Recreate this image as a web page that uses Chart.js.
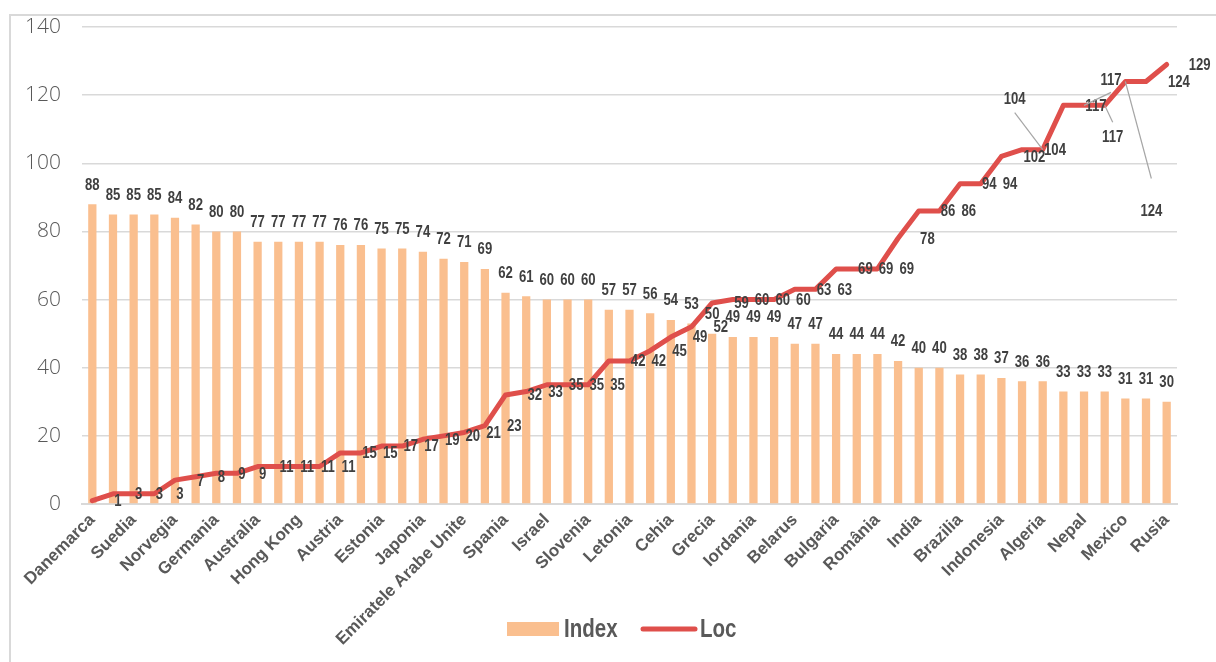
<!DOCTYPE html>
<html>
<head>
<meta charset="utf-8">
<script src="https://cdn.jsdelivr.net/npm/chart.js@4/dist/chart.umd.min.js"></script>
<style>
  html, body { margin: 0; padding: 0; background: #fff; overflow: hidden; }
  #wrap { position: relative; width: 1216px; height: 662px; }
  #frame { position: absolute; left: 9px; top: 14px; width: 1300px; height: 700px; border: 2px solid #d9d9d9; }
  #myChart { position: absolute; left: 0; top: 0; }
</style>
</head>
<body>
<div id="wrap">
  <div id="frame"></div>
  <canvas id="myChart" width="1216" height="662"></canvas>
</div>
<script>
// only every second country gets a tick label
const countries = [
  'Danemarca', '', 'Suedia', '', 'Norvegia', '', 'Germania', '', 'Australia', '',
  'Hong Kong', '', 'Austria', '', 'Estonia', '', 'Japonia', '', 'Emiratele Arabe Unite', '',
  'Spania', '', 'Israel', '', 'Slovenia', '', 'Letonia', '', 'Cehia', '',
  'Grecia', '', 'Iordania', '', 'Belarus', '', 'Bulgaria', '', 'România', '',
  'India', '', 'Brazilia', '', 'Indonesia', '', 'Algeria', '', 'Nepal', '',
  'Mexico', '', 'Rusia'
];

const indexValues = [
  88, 85, 85, 85, 84, 82, 80, 80, 77, 77,
  77, 77, 76, 76, 75, 75, 74, 72, 71, 69,
  62, 61, 60, 60, 60, 57, 57, 56, 54, 53,
  50, 49, 49, 49, 47, 47, 44, 44, 44, 42,
  40, 40, 38, 38, 37, 36, 36, 33, 33, 33,
  31, 31, 30
];

const locValues = [
  1, 3, 3, 3, 7, 8, 9, 9, 11, 11,
  11, 11, 15, 15, 17, 17, 19, 20, 21, 23,
  32, 33, 35, 35, 35, 42, 42, 45, 49, 52,
  59, 60, 60, 60, 63, 63, 69, 69, 69, 78,
  86, 86, 94, 94, 102, 104, 104, 117, 117, 117,
  124, 124, 129
];

const yTicks = [0, 20, 40, 60, 80, 100, 120, 140];

const barColor = '#FABF8F';
const lineColor = '#DF4F4B';
const labelFont = '"Liberation Sans", Arial, sans-serif';

// Loc labels that sit away from their point, joined by a leader line
const movedLabels = {
  46: {dx: -28, dy: -50, lead: 13},
  48: {dx: 27, dy: -25, lead: 12},
  49: {dx: 8, dy: 32, lead: -15},
  50: {dx: 26, dy: 130, lead: -33}
};

// condensed bold text, like the narrow font of the value labels
function narrowText(ctx, text, x, y, align) {
  ctx.save();
  ctx.translate(x, y);
  ctx.scale(0.82, 1);
  ctx.textAlign = align;
  ctx.fillText(text, 0, 0);
  ctx.restore();
}

const valueLabels = {
  id: 'valueLabels',
  afterDatasetsDraw(chart) {
    const ctx = chart.ctx;
    ctx.save();
    ctx.font = 'bold 16px ' + labelFont;
    ctx.fillStyle = '#404040';
    ctx.textBaseline = 'middle';

    chart.getDatasetMeta(0).data.forEach((bar, i) => {
      narrowText(ctx, String(indexValues[i]), bar.x, bar.y - 19, 'center');
    });

    chart.getDatasetMeta(1).data.forEach((pt, i) => {
      const m = movedLabels[i];
      if (m) {
        const lx = pt.x + m.dx, ly = pt.y + m.dy;
        ctx.strokeStyle = '#a6a6a6';
        ctx.lineWidth = 1.2;
        ctx.beginPath();
        ctx.moveTo(pt.x, pt.y);
        ctx.lineTo(lx, ly + m.lead);
        ctx.stroke();
        narrowText(ctx, String(locValues[i]), lx, ly, 'center');
      } else {
        narrowText(ctx, String(locValues[i]), pt.x + 22, pt.y + 1, 'left');
      }
    });
    ctx.restore();
  }
};

// legend under the axis labels: orange box for Index, red stroke for Loc
const bottomLegend = {
  id: 'bottomLegend',
  afterDraw(chart) {
    const ctx = chart.ctx;
    const y = 629;
    ctx.save();
    ctx.font = 'bold 25px ' + labelFont;
    ctx.fillStyle = barColor;
    ctx.fillRect(507, y - 7, 52, 14);
    ctx.fillStyle = '#595959';
    ctx.textBaseline = 'middle';
    narrowText(ctx, chart.data.datasets[0].label, 564, y + 1, 'left');

    ctx.strokeStyle = lineColor;
    ctx.lineWidth = 5;
    ctx.lineCap = 'round';
    ctx.beginPath();
    ctx.moveTo(643, y);
    ctx.lineTo(695, y);
    ctx.stroke();
    narrowText(ctx, chart.data.datasets[1].label, 700, y + 1, 'left');
    ctx.restore();
  }
};

const ctx = document.getElementById('myChart');

const chart_config = {
  type: 'bar',
  data: {
    labels: countries,
    datasets: [{
      type: 'bar',
      label: 'Index',
      data: indexValues,
      backgroundColor: barColor,
      borderWidth: 0,
      barPercentage: 0.4,
      categoryPercentage: 1.0,
      order: 2
    }, {
      type: 'line',
      label: 'Loc',
      data: locValues,
      borderColor: lineColor,
      backgroundColor: lineColor,
      borderWidth: 5,
      borderCapStyle: 'round',
      borderJoinStyle: 'round',
      pointRadius: 0,
      tension: 0,
      order: 1
    }]
  },
  options: {
    responsive: false,
    animation: false,
    layout: {
      padding: {left: 0, right: 39, top: 27, bottom: 0}
    },
    scales: {
      x: {
        grid: {display: false, drawTicks: false},
        border: {display: true, color: '#d9d9d9', width: 2},
        ticks: {
          autoSkip: false,
          maxRotation: 45,
          minRotation: 45,
          padding: 6,
          color: '#595959',
          font: {family: labelFont, size: 17, weight: 'bold'}
        },
        afterFit: scale => { scale.height = 158; }
      },
      y: {
        min: 0,
        max: 140,
        afterBuildTicks: scale => { scale.ticks = yTicks.map(v => ({value: v})); },
        grid: {color: '#d9d9d9', lineWidth: 1.5, drawTicks: false},
        border: {display: false},
        ticks: {
          padding: 21,
          color: '#595959',
          font: {family: '"Open Sans", sans-serif', size: 21, weight: 300}
        },
        afterFit: scale => {
          scale.width = 82;
          // the wide tick padding should not push the plot area down
          scale.paddingTop = 10;
          scale.paddingBottom = 10;
        }
      }
    },
    plugins: {
      legend: {display: false},
      tooltip: {enabled: false}
    }
  },
  plugins: [valueLabels, bottomLegend]
};

const chart = new Chart(ctx, chart_config);
</script>
</body>
</html>
